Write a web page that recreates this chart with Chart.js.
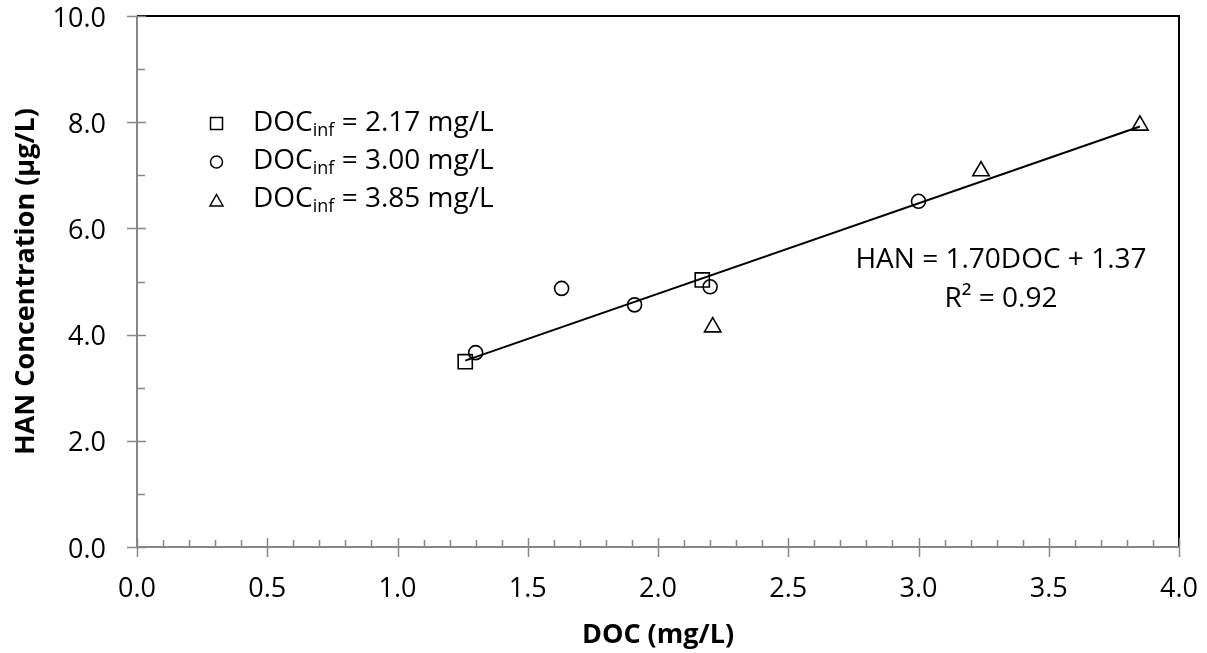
<!DOCTYPE html>
<html><head><meta charset="utf-8">
<script src="https://cdn.jsdelivr.net/npm/chart.js@4.4.1/dist/chart.umd.min.js"></script>
<style>html,body{margin:0;padding:0;background:#fff}#wrap{width:1207px;height:653px;position:relative}</style>
</head><body><div id="wrap"><canvas id="c"></canvas></div>
<script>
// ---- data ----
const legendLabels = ['2.17 mg/L', '3.00 mg/L', '3.85 mg/L'];
const squareX = [1.26, 2.17];
const squareY = [3.49, 5.03];
const circleX = [1.30, 1.63, 1.91, 2.20, 3.00];
const circleY = [3.66, 4.87, 4.56, 4.90, 6.51];
const triangleX = [2.21, 3.24, 3.85];
const triangleY = [4.14, 7.08, 7.94];
const trendX = [1.26, 3.85];
const trendY = [3.51, 7.92];
const xTickValues = [0, 0.5, 1, 1.5, 2, 2.5, 3, 3.5, 4];
const yTickValues = [0, 2, 4, 6, 8, 10];
const eqLine1 = 'HAN = 1.70DOC + 1.37';
const eqLine2 = 'R\u00B2 = 0.92';
const xTitle = 'DOC (mg/L)';
const yTitle = 'HAN Concentration (\u00B5g/L)';

const FONT = "'Open Sans', 'DejaVu Sans', sans-serif";
const AXIS_GRAY = '#878787';

function pts(xs, ys) { return xs.map((x, i) => ({x: x, y: ys[i]})); }

const framePlugin = {
  id: 'frame',
  beforeDatasetsDraw(chart) {
    const ctx = chart.ctx, a = chart.chartArea;
    const xs = chart.scales.x, ys = chart.scales.y;
    ctx.save();
    ctx.strokeStyle = '#000';
    ctx.lineWidth = 2;
    ctx.beginPath();
    ctx.moveTo(a.left, a.top); ctx.lineTo(a.right, a.top); ctx.lineTo(a.right, a.bottom);
    ctx.stroke();
    ctx.strokeStyle = AXIS_GRAY;
    ctx.lineWidth = 2;
    ctx.beginPath();
    ctx.moveTo(a.left, a.top); ctx.lineTo(a.left, a.bottom); ctx.lineTo(a.right, a.bottom);
    ctx.stroke();
    ctx.lineWidth = 1.5;
    ctx.beginPath();
    for (let i = 0; i <= 40; i++) {
      const v = i / 10;
      const px = Math.round(xs.getPixelForValue(v)) + 0.5;
      if (i % 5 === 0) { ctx.moveTo(px, a.bottom - 9); ctx.lineTo(px, a.bottom + 10); }
      else { ctx.moveTo(px, a.bottom - 7); ctx.lineTo(px, a.bottom); }
    }
    for (let i = 0; i <= 10; i++) {
      const py = Math.round(ys.getPixelForValue(i)) + 0.5;
      if (i % 2 === 0) { ctx.moveTo(a.left - 10, py); ctx.lineTo(a.left + 9, py); }
      else { ctx.moveTo(a.left, py); ctx.lineTo(a.left + 8, py); }
    }
    ctx.stroke();
    ctx.restore();
  },
  afterDraw(chart) {
    const ctx = chart.ctx;
    ctx.save();
    ctx.fillStyle = '#000';
    ctx.strokeStyle = '#000';
    ctx.lineWidth = 1.5;
    const mx = 216.5;
    const rows = [131, 169, 207];
    const my = [123.5, 162, 200.5];
    ctx.strokeRect(mx - 6, my[0] - 6, 12, 12);
    ctx.beginPath(); ctx.arc(mx, my[1], 6, 0, Math.PI * 2); ctx.stroke();
    ctx.beginPath();
    ctx.moveTo(mx, my[2] - 6); ctx.lineTo(mx + 6.5, my[2] + 5.5); ctx.lineTo(mx - 6.5, my[2] + 5.5); ctx.closePath(); ctx.stroke();
    ctx.textBaseline = 'alphabetic';
    ctx.textAlign = 'left';
    for (let i = 0; i < 3; i++) {
      let x = 253;
      ctx.font = '28px ' + FONT;
      ctx.fillText('DOC', x, rows[i]);
      x += ctx.measureText('DOC').width;
      ctx.font = '18px ' + FONT;
      ctx.fillText('inf', x, rows[i] + 5);
      x += ctx.measureText('inf').width;
      ctx.font = '28px ' + FONT;
      ctx.fillText(' = ' + legendLabels[i], x, rows[i]);
    }
    ctx.textAlign = 'center';
    ctx.font = '28px ' + FONT;
    ctx.fillText(eqLine1, 1001, 268);
    ctx.fillText(eqLine2, 1001, 306.5);
    ctx.restore();
  }
};

new Chart(document.getElementById('c'), {
  type: 'scatter',
  data: {
    datasets: [
      { label: 'trend', type: 'line', data: pts(trendX, trendY), borderColor: '#000', borderWidth: 2,
        pointRadius: 0, fill: false, showLine: true, order: 2 },
      { label: 'DOCinf = 2.17 mg/L', data: pts(squareX, squareY), pointStyle: 'rect', pointRadius: 10,
        borderColor: '#000', backgroundColor: 'rgba(0,0,0,0)', pointBorderWidth: 1.6, order: 1 },
      { label: 'DOCinf = 3.00 mg/L', data: pts(circleX, circleY), pointStyle: 'circle', pointRadius: 7,
        borderColor: '#000', backgroundColor: 'rgba(0,0,0,0)', pointBorderWidth: 1.6, order: 1 },
      { label: 'DOCinf = 3.85 mg/L', data: pts(triangleX, triangleY), pointStyle: 'triangle', pointRadius: 9.5,
        borderColor: '#000', backgroundColor: 'rgba(0,0,0,0)', pointBorderWidth: 1.6, order: 1 }
    ]
  },
  options: {
    responsive: true, maintainAspectRatio: false, animation: false,
    devicePixelRatio: 1,
    layout: { padding: { left: 0, top: 16, right: 28, bottom: 0 } },
    plugins: { legend: { display: false }, tooltip: { enabled: false } },
    scales: {
      x: {
        type: 'linear', min: 0, max: 4,
        afterBuildTicks(s) { s.ticks = xTickValues.map(v => ({value: v})); },
        afterFit(s) { s.height = 106; s.paddingLeft = 0; s.paddingRight = 0; },
        grid: { display: false, drawTicks: false },
        border: { display: false },
        ticks: { color: '#000', font: { family: FONT, size: 27 }, padding: 26, maxRotation: 0,
                 callback: v => Number(v).toFixed(1) },
        title: { display: true, text: xTitle, color: '#000', font: { family: FONT, size: 27, weight: 'bold' },
                 padding: { top: 0, bottom: 1 } }
      },
      y: {
        type: 'linear', min: 0, max: 10,
        afterBuildTicks(s) { s.ticks = yTickValues.map(v => ({value: v})); },
        afterFit(s) { s.width = 137; s.paddingTop = 0; s.paddingBottom = 0; },
        grid: { display: false, drawTicks: false },
        border: { display: false },
        ticks: { color: '#000', font: { family: FONT, size: 27 }, padding: 31, labelOffset: 3,
                 callback: v => Number(v).toFixed(1) },
        title: { display: true, text: yTitle, color: '#000', font: { family: FONT, size: 27, weight: 'bold' },
                 padding: { top: 10, bottom: 0 } }
      }
    }
  },
  plugins: [framePlugin]
});
</script></body></html>
